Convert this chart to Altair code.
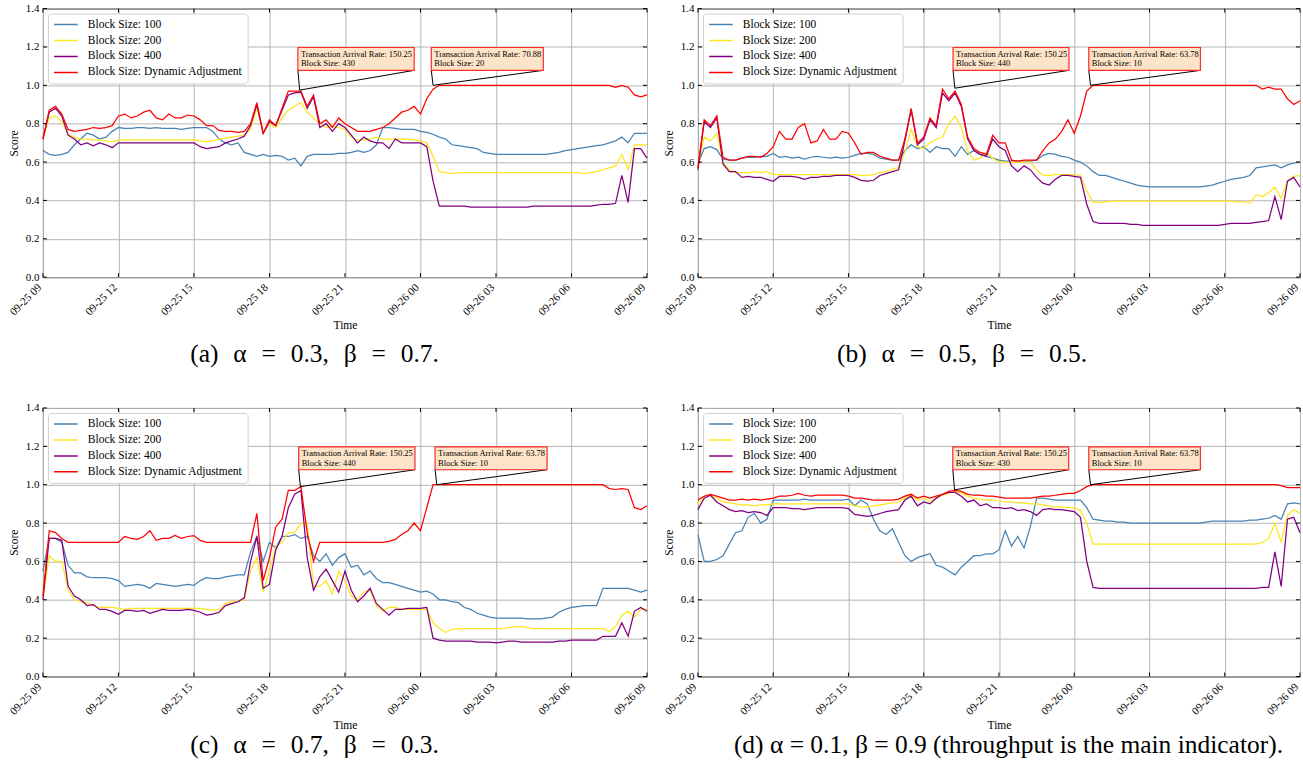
import altair as alt
import pandas as pd

# ---------------- data ----------------
HOURS = [i / 4 for i in range(97)]          # 15-minute samples from 09-25 09:00 to 09-26 09:00
TICK_HOURS = [0, 3, 6, 9, 12, 15, 18, 21, 24]
TICK_LABELS = ["09-25 09", "09-25 12", "09-25 15", "09-25 18", "09-25 21",
               "09-26 00", "09-26 03", "09-26 06", "09-26 09"]
Y_TICKS = [0.0, 0.2, 0.4, 0.6, 0.8, 1.0, 1.2, 1.4]
SERIES = ["Block Size: 100", "Block Size: 200", "Block Size: 400", "Block Size: Dynamic Adjustment"]
COLORS = ["#4682b4", "#ffe61e", "#800080", "#ff0000"]

A_BLUE = [
    0.66, 0.64, 0.635, 0.64,
    0.65, 0.69, 0.72, 0.75,
    0.74, 0.72, 0.73, 0.76,
    0.78, 0.775, 0.775, 0.78,
    0.78, 0.775, 0.78, 0.775,
    0.775, 0.775, 0.77, 0.775,
    0.78, 0.78, 0.78, 0.76,
    0.72, 0.70, 0.69, 0.70,
    0.65, 0.64, 0.63, 0.64,
    0.63, 0.635, 0.63, 0.61,
    0.62, 0.58, 0.63, 0.64,
    0.64, 0.64, 0.64, 0.645,
    0.645, 0.65, 0.66, 0.65,
    0.66, 0.69, 0.78, 0.78,
    0.775, 0.77, 0.77, 0.77,
    0.76, 0.755, 0.745, 0.73,
    0.72, 0.69, 0.685, 0.68,
    0.675, 0.67, 0.65, 0.645,
    0.64, 0.64, 0.64, 0.64,
    0.64, 0.64, 0.64, 0.64,
    0.64, 0.645, 0.65, 0.66,
    0.665, 0.67, 0.675, 0.68,
    0.685, 0.69, 0.70, 0.71,
    0.73, 0.70, 0.75, 0.75,
    0.75]
A_YELLOW = [
    0.72, 0.83, 0.84, 0.81,
    0.745, 0.73, 0.72, 0.72,
    0.715, 0.715, 0.71, 0.705,
    0.715, 0.715, 0.715, 0.715,
    0.715, 0.715, 0.715, 0.715,
    0.715, 0.715, 0.715, 0.715,
    0.715, 0.71, 0.705, 0.71,
    0.72, 0.725, 0.73, 0.735,
    0.74, 0.77, 0.88, 0.75,
    0.80, 0.78, 0.83, 0.87,
    0.89, 0.91, 0.86, 0.83,
    0.80, 0.78, 0.79, 0.78,
    0.77, 0.73, 0.715, 0.715,
    0.72, 0.73, 0.72, 0.72,
    0.72, 0.72, 0.72, 0.715,
    0.71, 0.70, 0.63, 0.55,
    0.545, 0.54, 0.545, 0.545,
    0.545, 0.545, 0.545, 0.545,
    0.545, 0.545, 0.545, 0.545,
    0.545, 0.545, 0.545, 0.545,
    0.545, 0.545, 0.545, 0.545,
    0.545, 0.545, 0.54, 0.545,
    0.55, 0.56, 0.57, 0.58,
    0.64, 0.56, 0.69, 0.69,
    0.69]
A_PURPLE = [
    0.72, 0.86, 0.88, 0.84,
    0.74, 0.72, 0.69, 0.70,
    0.685, 0.70, 0.69, 0.675,
    0.70, 0.70, 0.70, 0.70,
    0.70, 0.70, 0.70, 0.70,
    0.70, 0.70, 0.70, 0.70,
    0.70, 0.68, 0.67, 0.675,
    0.68, 0.70, 0.71, 0.72,
    0.735, 0.79, 0.90, 0.75,
    0.81, 0.79, 0.87, 0.95,
    0.96, 0.965, 0.88, 0.94,
    0.78, 0.80, 0.76, 0.80,
    0.78, 0.74, 0.70, 0.73,
    0.71, 0.70, 0.70, 0.67,
    0.72, 0.70, 0.70, 0.70,
    0.70, 0.68, 0.50, 0.37,
    0.37, 0.37, 0.37, 0.37,
    0.365, 0.365, 0.365, 0.365,
    0.365, 0.365, 0.365, 0.365,
    0.365, 0.365, 0.37, 0.37,
    0.37, 0.37, 0.37, 0.37,
    0.37, 0.37, 0.37, 0.37,
    0.375, 0.38, 0.38, 0.385,
    0.53, 0.39, 0.67, 0.67,
    0.62]
A_RED = [
    0.72, 0.87, 0.89, 0.85,
    0.77, 0.76, 0.765, 0.77,
    0.78, 0.775, 0.78, 0.79,
    0.84, 0.85, 0.83, 0.84,
    0.86, 0.87, 0.83, 0.82,
    0.85, 0.83, 0.83, 0.845,
    0.84, 0.82, 0.79, 0.79,
    0.765, 0.76, 0.76, 0.755,
    0.76, 0.80, 0.91, 0.75,
    0.82, 0.79, 0.88, 0.97,
    0.97, 0.97, 0.89, 0.95,
    0.80, 0.82, 0.78, 0.83,
    0.80, 0.78, 0.76, 0.76,
    0.76, 0.77, 0.78, 0.80,
    0.83, 0.86, 0.87, 0.89,
    0.85, 0.93, 0.98, 1.0,
    1.0, 1.0, 1.0, 1.0,
    1.0, 1.0, 1.0, 1.0,
    1.0, 1.0, 1.0, 1.0,
    1.0, 1.0, 1.0, 1.0,
    1.0, 1.0, 1.0, 1.0,
    1.0, 1.0, 1.0, 1.0,
    1.0, 1.0, 1.0, 0.99,
    1.0, 0.99, 0.95, 0.94,
    0.95]

B_BLUE = [
    0.59, 0.67, 0.68, 0.665,
    0.615, 0.61, 0.61, 0.62,
    0.625, 0.625, 0.63, 0.63,
    0.645, 0.625, 0.63, 0.62,
    0.625, 0.615, 0.625, 0.63,
    0.625, 0.62, 0.625, 0.62,
    0.625, 0.635, 0.645, 0.645,
    0.64, 0.62, 0.615, 0.61,
    0.61, 0.66, 0.69, 0.67,
    0.68, 0.65, 0.68, 0.67,
    0.67, 0.63, 0.68, 0.64,
    0.66, 0.64, 0.63, 0.62,
    0.61, 0.605, 0.605, 0.605,
    0.605, 0.605, 0.61, 0.635,
    0.645, 0.64, 0.63, 0.625,
    0.61, 0.60, 0.58, 0.55,
    0.53, 0.53, 0.52, 0.51,
    0.50, 0.49, 0.48, 0.475,
    0.47, 0.47, 0.47, 0.47,
    0.47, 0.47, 0.47, 0.47,
    0.47, 0.475, 0.48, 0.49,
    0.50, 0.51, 0.515, 0.52,
    0.53, 0.57, 0.575, 0.58,
    0.585, 0.57, 0.585, 0.595,
    0.60]
B_YELLOW = [
    0.58, 0.73, 0.71, 0.75,
    0.60, 0.56, 0.545, 0.545,
    0.545, 0.55, 0.545, 0.55,
    0.535, 0.535, 0.535, 0.535,
    0.535, 0.535, 0.535, 0.535,
    0.535, 0.535, 0.535, 0.535,
    0.535, 0.535, 0.53, 0.53,
    0.535, 0.545, 0.55, 0.565,
    0.57, 0.65, 0.77, 0.68,
    0.67, 0.70, 0.72, 0.73,
    0.80, 0.84, 0.78, 0.66,
    0.61, 0.62, 0.65, 0.62,
    0.60, 0.60, 0.60, 0.60,
    0.60, 0.60, 0.56, 0.53,
    0.53, 0.535, 0.535, 0.535,
    0.535, 0.53, 0.45, 0.39,
    0.39, 0.393, 0.396, 0.396,
    0.396, 0.396, 0.396, 0.396,
    0.396, 0.396, 0.396, 0.396,
    0.396, 0.396, 0.396, 0.396,
    0.396, 0.396, 0.396, 0.396,
    0.396, 0.396, 0.393, 0.393,
    0.385, 0.43, 0.42, 0.44,
    0.47, 0.41, 0.50, 0.525,
    0.53]
B_PURPLE = [
    0.56, 0.81, 0.78, 0.83,
    0.59, 0.55, 0.55, 0.52,
    0.525, 0.52, 0.52, 0.51,
    0.50, 0.525, 0.525, 0.525,
    0.52, 0.51, 0.52, 0.52,
    0.525, 0.525, 0.53, 0.53,
    0.53, 0.52, 0.505, 0.50,
    0.505, 0.53, 0.54, 0.55,
    0.56, 0.71, 0.87, 0.69,
    0.72, 0.82, 0.78, 0.96,
    0.92, 0.96, 0.89, 0.72,
    0.66, 0.64, 0.63, 0.72,
    0.68, 0.66, 0.58, 0.55,
    0.58, 0.56, 0.52, 0.49,
    0.48, 0.51, 0.53, 0.53,
    0.525, 0.52, 0.38, 0.29,
    0.28, 0.28, 0.28, 0.28,
    0.28, 0.275, 0.275, 0.27,
    0.27, 0.27, 0.27, 0.27,
    0.27, 0.27, 0.27, 0.27,
    0.27, 0.27, 0.27, 0.27,
    0.275, 0.28, 0.28, 0.28,
    0.28, 0.285, 0.29, 0.295,
    0.42, 0.30, 0.50, 0.52,
    0.47]
B_RED = [
    0.57, 0.82, 0.79, 0.84,
    0.625, 0.61, 0.61, 0.62,
    0.63, 0.63, 0.625, 0.645,
    0.68, 0.76, 0.72, 0.72,
    0.78, 0.80, 0.70, 0.71,
    0.77, 0.72, 0.72, 0.76,
    0.75, 0.70, 0.64, 0.65,
    0.65, 0.63, 0.62, 0.61,
    0.61, 0.72, 0.88, 0.70,
    0.73, 0.83, 0.79, 0.98,
    0.93, 0.97, 0.90, 0.73,
    0.67, 0.65, 0.64, 0.74,
    0.70, 0.70, 0.61, 0.605,
    0.61, 0.61, 0.61, 0.66,
    0.70, 0.72, 0.76, 0.82,
    0.75, 0.84, 0.97, 1.0,
    1.0, 1.0, 1.0, 1.0,
    1.0, 1.0, 1.0, 1.0,
    1.0, 1.0, 1.0, 1.0,
    1.0, 1.0, 1.0, 1.0,
    1.0, 1.0, 1.0, 1.0,
    1.0, 1.0, 1.0, 1.0,
    1.0, 1.0, 0.98, 0.99,
    0.98, 0.98, 0.93, 0.90,
    0.92]

C_BLUE = [
    0.55, 0.72, 0.72, 0.70,
    0.58, 0.54, 0.54, 0.52,
    0.515, 0.515, 0.515, 0.51,
    0.50, 0.47, 0.475, 0.48,
    0.475, 0.46, 0.485, 0.48,
    0.475, 0.47, 0.475, 0.48,
    0.475, 0.50, 0.515, 0.51,
    0.51, 0.52, 0.525, 0.53,
    0.53, 0.65, 0.73, 0.60,
    0.70, 0.67, 0.73, 0.73,
    0.74, 0.72, 0.73, 0.63,
    0.60, 0.64, 0.58, 0.62,
    0.64, 0.57, 0.58, 0.53,
    0.55, 0.51, 0.49, 0.49,
    0.48, 0.47, 0.46, 0.45,
    0.44, 0.445, 0.43, 0.40,
    0.40, 0.39, 0.385, 0.36,
    0.35, 0.33, 0.32, 0.31,
    0.305, 0.305, 0.305, 0.305,
    0.305, 0.30, 0.30, 0.30,
    0.305, 0.31, 0.335, 0.35,
    0.36, 0.365, 0.37, 0.37,
    0.37, 0.46, 0.46, 0.46,
    0.46, 0.46, 0.45, 0.44,
    0.45]
C_YELLOW = [
    0.40, 0.63, 0.60, 0.60,
    0.45, 0.40, 0.39, 0.385,
    0.37, 0.36, 0.36, 0.36,
    0.355, 0.35, 0.355, 0.355,
    0.355, 0.355, 0.355, 0.355,
    0.355, 0.355, 0.355, 0.355,
    0.355, 0.355, 0.35, 0.345,
    0.35, 0.38, 0.39, 0.39,
    0.40, 0.55, 0.62, 0.44,
    0.55, 0.68, 0.70, 0.75,
    0.75, 0.80, 0.80, 0.47,
    0.47, 0.50, 0.43, 0.55,
    0.50, 0.42, 0.40, 0.44,
    0.45, 0.37, 0.34, 0.36,
    0.36, 0.35, 0.35, 0.35,
    0.35, 0.35, 0.28, 0.25,
    0.23, 0.245, 0.25, 0.25,
    0.25, 0.25, 0.25, 0.25,
    0.25, 0.25, 0.255, 0.26,
    0.26, 0.255, 0.25, 0.25,
    0.25, 0.25, 0.25, 0.25,
    0.25, 0.25, 0.25, 0.25,
    0.25, 0.25, 0.235, 0.26,
    0.32, 0.34, 0.31, 0.35,
    0.35]
C_PURPLE = [
    0.40, 0.72, 0.72, 0.71,
    0.47, 0.42, 0.40, 0.37,
    0.375, 0.35, 0.35, 0.34,
    0.325, 0.345, 0.345, 0.34,
    0.345, 0.33, 0.34, 0.35,
    0.345, 0.345, 0.345, 0.35,
    0.345, 0.335, 0.32, 0.325,
    0.335, 0.37, 0.38, 0.39,
    0.41, 0.60, 0.73, 0.46,
    0.48, 0.66, 0.73, 0.88,
    0.95, 0.97, 0.62, 0.45,
    0.52, 0.56, 0.50, 0.44,
    0.55, 0.45, 0.39, 0.42,
    0.46, 0.38, 0.35, 0.32,
    0.35, 0.35, 0.355, 0.355,
    0.355, 0.36, 0.20, 0.19,
    0.185, 0.185, 0.185, 0.185,
    0.185, 0.18, 0.18, 0.18,
    0.175, 0.18, 0.185, 0.185,
    0.18, 0.18, 0.18, 0.18,
    0.18, 0.18, 0.185, 0.185,
    0.19, 0.19, 0.19, 0.19,
    0.19, 0.21, 0.21, 0.21,
    0.28, 0.21, 0.34, 0.36,
    0.34]
C_RED = [
    0.42, 0.76, 0.75, 0.72,
    0.70, 0.70, 0.70, 0.70,
    0.70, 0.70, 0.70, 0.70,
    0.70, 0.73, 0.72, 0.715,
    0.73, 0.76, 0.71, 0.72,
    0.72, 0.735, 0.72, 0.73,
    0.735, 0.71, 0.70, 0.70,
    0.70, 0.70, 0.70, 0.70,
    0.70, 0.70, 0.85, 0.50,
    0.62, 0.78, 0.82, 0.97,
    0.97, 0.99, 0.75, 0.60,
    0.70, 0.70, 0.70, 0.70,
    0.70, 0.70, 0.70, 0.70,
    0.70, 0.70, 0.70, 0.705,
    0.715, 0.74, 0.76, 0.80,
    0.76, 0.88, 1.0, 1.0,
    1.0, 1.0, 1.0, 1.0,
    1.0, 1.0, 1.0, 1.0,
    1.0, 1.0, 1.0, 1.0,
    1.0, 1.0, 1.0, 1.0,
    1.0, 1.0, 1.0, 1.0,
    1.0, 1.0, 1.0, 1.0,
    1.0, 1.0, 0.98, 0.975,
    0.98, 0.975, 0.88, 0.87,
    0.89]

D_BLUE = [
    0.74, 0.60, 0.60, 0.61,
    0.63, 0.69, 0.75, 0.76,
    0.83, 0.85, 0.80, 0.82,
    0.92, 0.92, 0.92, 0.92,
    0.92, 0.925, 0.92, 0.92,
    0.92, 0.92, 0.92, 0.92,
    0.925, 0.89, 0.92, 0.90,
    0.82, 0.76, 0.74, 0.77,
    0.70, 0.63, 0.60, 0.62,
    0.63, 0.64, 0.58, 0.57,
    0.55, 0.53, 0.57, 0.60,
    0.63, 0.63, 0.64, 0.64,
    0.66, 0.76, 0.68, 0.73,
    0.67, 0.78, 0.93, 0.93,
    0.925, 0.92, 0.92, 0.92,
    0.92, 0.92, 0.88, 0.82,
    0.815, 0.81, 0.81, 0.805,
    0.805, 0.80, 0.80, 0.80,
    0.80, 0.80, 0.80, 0.80,
    0.80, 0.80, 0.80, 0.80,
    0.80, 0.805, 0.81, 0.81,
    0.81, 0.81, 0.81, 0.81,
    0.815, 0.815, 0.82, 0.825,
    0.84, 0.82, 0.90, 0.905,
    0.90]
D_YELLOW = [
    0.90, 0.94, 0.945, 0.93,
    0.91, 0.905, 0.90, 0.895,
    0.895, 0.89, 0.895, 0.895,
    0.90, 0.90, 0.90, 0.90,
    0.90, 0.90, 0.90, 0.90,
    0.90, 0.90, 0.90, 0.90,
    0.90, 0.89, 0.885, 0.885,
    0.89, 0.895, 0.90, 0.905,
    0.91, 0.93, 0.945, 0.92,
    0.93, 0.91, 0.93, 0.945,
    0.955, 0.965, 0.955, 0.94,
    0.93, 0.925, 0.92, 0.92,
    0.915, 0.91, 0.91, 0.905,
    0.905, 0.90, 0.90, 0.895,
    0.89, 0.885, 0.885, 0.88,
    0.88, 0.865, 0.80, 0.69,
    0.69, 0.69, 0.69, 0.69,
    0.69, 0.69, 0.69, 0.69,
    0.69, 0.69, 0.69, 0.69,
    0.69, 0.69, 0.69, 0.69,
    0.69, 0.69, 0.69, 0.69,
    0.69, 0.69, 0.69, 0.69,
    0.69, 0.69, 0.70, 0.72,
    0.80, 0.70, 0.84, 0.87,
    0.85]
D_PURPLE = [
    0.87, 0.93, 0.945, 0.91,
    0.89, 0.87, 0.86, 0.865,
    0.855, 0.86, 0.855, 0.84,
    0.88, 0.88, 0.88, 0.875,
    0.875, 0.87, 0.875, 0.88,
    0.88, 0.88, 0.88, 0.88,
    0.875, 0.845, 0.84, 0.835,
    0.84, 0.85, 0.86, 0.865,
    0.87, 0.92, 0.94, 0.89,
    0.91, 0.90, 0.93, 0.95,
    0.96, 0.96, 0.94, 0.91,
    0.92, 0.89, 0.90, 0.88,
    0.88, 0.875, 0.88, 0.865,
    0.87, 0.86, 0.84, 0.87,
    0.875, 0.87, 0.87, 0.865,
    0.86, 0.83, 0.60, 0.465,
    0.46, 0.46, 0.46, 0.46,
    0.46, 0.46, 0.46, 0.46,
    0.46, 0.46, 0.46, 0.46,
    0.46, 0.46, 0.46, 0.46,
    0.46, 0.46, 0.46, 0.46,
    0.46, 0.46, 0.46, 0.46,
    0.46, 0.46, 0.465, 0.465,
    0.65, 0.47, 0.82, 0.83,
    0.75]
D_RED = [
    0.92, 0.94, 0.95, 0.94,
    0.93, 0.92, 0.92, 0.925,
    0.92, 0.925, 0.92, 0.925,
    0.93, 0.94, 0.94, 0.945,
    0.955, 0.945, 0.94, 0.945,
    0.945, 0.945, 0.945, 0.945,
    0.94, 0.93, 0.93, 0.925,
    0.92, 0.92, 0.92, 0.92,
    0.925, 0.94, 0.95, 0.93,
    0.94, 0.93, 0.94, 0.95,
    0.965, 0.97, 0.965, 0.95,
    0.945, 0.945, 0.94, 0.94,
    0.935, 0.93, 0.93, 0.93,
    0.93, 0.93, 0.935, 0.94,
    0.94, 0.945, 0.95, 0.955,
    0.955, 0.97, 0.99, 1.0,
    1.0, 1.0, 1.0, 1.0,
    1.0, 1.0, 1.0, 1.0,
    1.0, 1.0, 1.0, 1.0,
    1.0, 1.0, 1.0, 1.0,
    1.0, 1.0, 1.0, 1.0,
    1.0, 1.0, 1.0, 1.0,
    1.0, 1.0, 1.0, 1.0,
    1.0, 0.995, 0.985, 0.985,
    0.985]

# annotation callouts (hour offset, score, arrival rate, block size)
A_ANN_HOUR = [10.2, 15.5]
A_ANN_SCORE = [0.975, 1.0]
A_ANN_RATE = ["150.25", "70.88"]
A_ANN_BLOCK = ["430", "20"]
B_ANN_HOUR = [10.24, 15.65]
B_ANN_SCORE = [0.985, 1.0]
B_ANN_RATE = ["150.25", "63.78"]
B_ANN_BLOCK = ["440", "10"]
C_ANN_HOUR = [10.23, 15.65]
C_ANN_SCORE = [0.99, 1.0]
C_ANN_RATE = ["150.25", "63.78"]
C_ANN_BLOCK = ["440", "10"]
D_ANN_HOUR = [10.23, 15.65]
D_ANN_SCORE = [0.973, 1.0]
D_ANN_RATE = ["150.25", "63.78"]
D_ANN_BLOCK = ["430", "10"]

SP = "\u2002\u200a"   # wide space, like the typeset caption
CAPTIONS = ["(a)" + SP + "α" + SP + "=" + SP + "0.3," + SP + "β" + SP + "=" + SP + "0.7.",
            "(b)" + SP + "α" + SP + "=" + SP + "0.5," + SP + "β" + SP + "=" + SP + "0.5.",
            "(c)" + SP + "α" + SP + "=" + SP + "0.7," + SP + "β" + SP + "=" + SP + "0.3.",
            "(d) α = 0.1, β = 0.9 (throughput is the main indicator)."]
CAPTION_DX = [-30.5, -37, -30.5, 9.5]
CAPTION_OFFSET = [11, 11, 2, 2]

# ---------------- styling ----------------
FONT = "Liberation Serif"
W_LEFT, W_RIGHT = 605, 603
H_TOP, H_BOTTOM = 269, 269
BOX_LEFT_OFFSET = 0.07     # hours left of the annotated point
BOX_BOTTOM, BOX_TOP = 1.078, 1.197
TICK_LEN = 4

PANELS = [
    (0, W_LEFT, H_TOP, [A_BLUE, A_YELLOW, A_PURPLE, A_RED], A_ANN_HOUR, A_ANN_SCORE, A_ANN_RATE, A_ANN_BLOCK),
    (1, W_RIGHT, H_TOP, [B_BLUE, B_YELLOW, B_PURPLE, B_RED], B_ANN_HOUR, B_ANN_SCORE, B_ANN_RATE, B_ANN_BLOCK),
    (2, W_LEFT, H_BOTTOM, [C_BLUE, C_YELLOW, C_PURPLE, C_RED], C_ANN_HOUR, C_ANN_SCORE, C_ANN_RATE, C_ANN_BLOCK),
    (3, W_RIGHT, H_BOTTOM, [D_BLUE, D_YELLOW, D_PURPLE, D_RED], D_ANN_HOUR, D_ANN_SCORE, D_ANN_RATE, D_ANN_BLOCK),
]

LABEL_EXPR = "[" + ",".join("'%s'" % s for s in TICK_LABELS) + "][round(datum.value / 3)]"


def build_panel(idx, W, H, series_vals, ann_hour, ann_score, ann_rate, ann_block):
    xs = alt.Scale(domain=[0, 24], nice=False, zero=False)
    ys = alt.Scale(domain=[0, 1.4], nice=False, zero=False)
    x_axis = alt.Axis(values=TICK_HOURS, labelExpr=LABEL_EXPR, title="Time",
                      labelAngle=-45, labelAlign="right", labelBaseline="bottom",
                      labelPadding=12, titlePadding=3, labelOverlap=False)
    y_axis = alt.Axis(values=Y_TICKS, format=".1f", title="Score", labelPadding=4, titlePadding=6)
    legend = alt.Legend(title=None, orient="none", legendX=5, legendY=5,
                        labelFont=FONT, labelFontSize=11.5, labelColor="black",
                        symbolType="stroke", symbolStrokeWidth=1.5, symbolSize=560,
                        labelOffset=9, rowPadding=4, padding=5, clipHeight=12,
                        strokeColor="#d0d0d0", fillColor="white", cornerRadius=3)

    def X(field):
        return alt.X(field, scale=xs, axis=x_axis)

    def Y(field):
        return alt.Y(field, scale=ys, axis=y_axis)

    layers = []
    for name, vals in zip(SERIES, series_vals):
        df = pd.DataFrame({"hour": HOURS, "value": vals, "series": name})
        layers.append(alt.Chart(df).mark_line(strokeWidth=1.25).encode(
            x=X("hour:Q"), y=Y("value:Q"),
            color=alt.Color("series:N", scale=alt.Scale(domain=SERIES, range=COLORS), legend=legend),
        ))

    widths = [4.45 + 0.17 * (len(r) - 5) for r in ann_rate]
    ann = pd.DataFrame({
        "px": ann_hour,
        "py": ann_score,
        "bl": [h - BOX_LEFT_OFFSET for h in ann_hour],
        "br": [h - BOX_LEFT_OFFSET + w for h, w in zip(ann_hour, widths)],
        "bb": [BOX_BOTTOM] * len(ann_hour),
        "bt": [BOX_TOP] * len(ann_hour),
        "label": ["Transaction Arrival Rate: %s\nBlock Size: %s" % (r, b) for r, b in zip(ann_rate, ann_block)],
    })
    base = alt.Chart(ann)
    layers.append(base.mark_rule(color="black", strokeWidth=1).encode(
        x=X("px:Q"), y=Y("py:Q"), x2="bl:Q", y2="bb:Q"))
    layers.append(base.mark_rule(color="black", strokeWidth=1).encode(
        x=X("px:Q"), y=Y("py:Q"), x2="br:Q", y2="bb:Q"))
    layers.append(base.mark_rect(fill="#fde3c8", stroke="#ff2a2a", strokeWidth=1.2).encode(
        x=X("bl:Q"), x2="br:Q", y=Y("bb:Q"), y2="bt:Q"))
    layers.append(base.mark_text(align="left", baseline="top", dx=3, dy=2.5, font=FONT,
                                 fontSize=8.5, lineBreak="\n", lineHeight=9.5, color="black").encode(
        x=X("bl:Q"), y=Y("bt:Q"), text="label:N"))

    # inward ticks on all four sides
    yt = alt.Chart(pd.DataFrame({"v": Y_TICKS}))
    xt = alt.Chart(pd.DataFrame({"v": TICK_HOURS}))
    layers.append(yt.mark_rule(color="black", strokeWidth=1).encode(
        y=Y("v:Q"), x=alt.value(0), x2=alt.value(TICK_LEN)))
    layers.append(yt.mark_rule(color="black", strokeWidth=1).encode(
        y=Y("v:Q"), x=alt.value(W - TICK_LEN), x2=alt.value(W)))
    layers.append(xt.mark_rule(color="black", strokeWidth=1).encode(
        x=X("v:Q"), y=alt.value(H), y2=alt.value(H - TICK_LEN)))
    layers.append(xt.mark_rule(color="black", strokeWidth=1).encode(
        x=X("v:Q"), y=alt.value(0), y2=alt.value(TICK_LEN)))

    return alt.layer(*layers).properties(
        width=W, height=H,
        title=alt.TitleParams(text=CAPTIONS[idx], orient="bottom", anchor="middle",
                              offset=CAPTION_OFFSET[idx], dx=CAPTION_DX[idx],
                              font=FONT, fontSize=25.5, fontWeight="normal", color="black"))


panels = [build_panel(*p) for p in PANELS]

row1 = alt.hconcat(panels[0], panels[1], spacing=11).resolve_scale(color="independent").resolve_legend(color="independent")
row2 = alt.hconcat(panels[2], panels[3], spacing=11).resolve_scale(color="independent").resolve_legend(color="independent")

chart = alt.vconcat(row1, row2, spacing=32).resolve_scale(color="independent").resolve_legend(
    color="independent").properties(
    padding={"left": 6, "top": 1, "right": 0, "bottom": 0}
).configure_view(stroke="black", strokeWidth=1).configure_axis(
    domain=False, ticks=False, grid=True, gridColor="#b5b5b5", gridWidth=1,
    labelFont=FONT, labelFontSize=11, labelColor="black",
    titleFont=FONT, titleFontSize=11.5, titleFontWeight="normal", titleColor="black"
)

chart.save("out.html", embed_options={"renderer": "svg", "actions": False})
